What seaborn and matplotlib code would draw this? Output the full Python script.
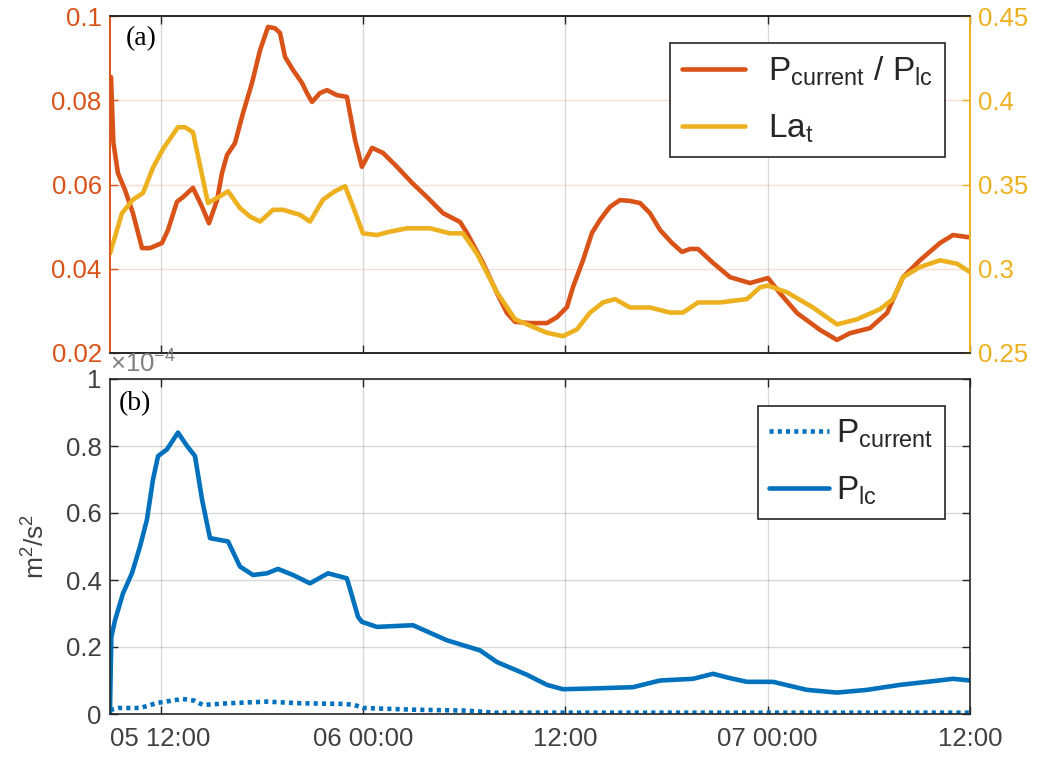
import numpy as np
import pandas as pd
import matplotlib
matplotlib.use("Agg")
import matplotlib.pyplot as plt
import seaborn as sns
from matplotlib.ticker import FixedLocator, FuncFormatter

# ---------------- data (hours since 05 00:00) ----------------
ratio_hours = [9.0, 9.06, 9.2, 9.47, 9.89, 10.36, 10.90, 11.37, 12.08, 12.44, 12.97, 13.33,
               13.92, 14.46, 14.87, 15.35, 15.64, 15.94, 16.41, 16.89, 17.42, 17.90, 18.37,
               18.78, 19.08, 19.38, 19.85, 20.39, 20.68, 20.98, 21.45, 21.87, 22.46, 23.05,
               23.53, 23.94, 24.54, 25.19, 26.02, 26.91, 27.80, 28.75, 29.76, 30.17, 31.12,
               31.95, 32.54, 33.02, 33.91, 34.91, 35.51, 36.10, 36.46, 37.05, 37.58, 38.06,
               38.65, 39.24, 39.84, 40.43, 41.02, 41.62, 42.33, 42.92, 43.40, 43.87, 44.76,
               45.77, 46.95, 48.02, 48.73, 49.74, 51.10, 52.11, 52.88, 54.07, 55.08, 56.03,
               57.03, 58.22, 58.99, 59.88, 60.0]
ratio_vals = [0.085, 0.0855, 0.070, 0.0627, 0.0587, 0.0532, 0.0449, 0.0449, 0.0461, 0.0492,
              0.0559, 0.0570, 0.0592, 0.0547, 0.0508, 0.0563, 0.0627, 0.0670, 0.0698, 0.0770,
              0.0841, 0.0919, 0.0974, 0.0971, 0.0960, 0.0903, 0.0872, 0.0841, 0.0817, 0.0796,
              0.0817, 0.0824, 0.0812, 0.0808, 0.0706, 0.0642, 0.0687, 0.0675, 0.0642, 0.0604,
              0.0570, 0.0532, 0.0511, 0.0485, 0.0414, 0.0342, 0.0295, 0.0274, 0.0271, 0.0271,
              0.0285, 0.0309, 0.0357, 0.0420, 0.0485, 0.0516, 0.0547, 0.0563, 0.0561, 0.0556,
              0.0532, 0.0492, 0.0461, 0.0440, 0.0447, 0.0447, 0.0414, 0.0380, 0.0366, 0.0378,
              0.0342, 0.0295, 0.0255, 0.0231, 0.0247, 0.0259, 0.0295, 0.0380, 0.0420, 0.0461,
              0.0480, 0.0475, 0.0475]

lat_hours = [9.0, 9.71, 10.36, 10.96, 11.55, 12.14, 13.03, 13.45, 13.92, 14.81, 15.52, 16.00,
             16.71, 17.30, 17.90, 18.67, 19.26, 20.27, 20.86, 21.63, 22.34, 22.94, 23.41,
             24.00, 24.83, 25.60, 26.61, 27.98, 29.16, 29.93, 30.76, 31.95, 33.02, 33.73,
             34.91, 35.86, 36.69, 37.47, 38.24, 38.95, 39.84, 41.02, 42.21, 42.98, 43.87,
             45.17, 46.78, 47.55, 48.02, 49.15, 50.69, 52.11, 53.30, 54.66, 55.43, 56.03,
             57.03, 58.22, 59.23, 60.0]
lat_vals = [0.309, 0.333, 0.341, 0.345, 0.360, 0.371, 0.384, 0.384, 0.381, 0.339, 0.343,
            0.346, 0.336, 0.331, 0.328, 0.335, 0.335, 0.332, 0.328, 0.341, 0.346, 0.349,
            0.337, 0.321, 0.320, 0.322, 0.324, 0.324, 0.321, 0.321, 0.309, 0.286, 0.270,
            0.267, 0.262, 0.260, 0.264, 0.274, 0.280, 0.282, 0.277, 0.277, 0.274, 0.274,
            0.280, 0.280, 0.282, 0.289, 0.290, 0.286, 0.277, 0.267, 0.270, 0.276, 0.282,
            0.295, 0.301, 0.305, 0.303, 0.298]

plc_hours = [9.0, 9.03, 9.08, 9.30, 9.77, 10.30, 10.78, 11.19, 11.55, 11.85, 12.38, 13.03,
             13.57, 14.04, 14.46, 14.93, 16.00, 16.71, 17.48, 18.31, 18.96, 19.85, 20.86,
             21.93, 23.05, 23.71, 23.94, 24.83, 26.97, 28.98, 30.94, 31.95, 33.73, 34.91,
             35.86, 37.47, 40.01, 41.62, 43.57, 44.76, 45.77, 46.78, 48.32, 50.33, 52.11,
             53.89, 55.85, 57.81, 58.99, 60.0]
plc_vals = [0.0, 0.10, 0.23, 0.28, 0.36, 0.42, 0.50, 0.58, 0.70, 0.77, 0.79, 0.84, 0.80,
            0.77, 0.64, 0.525, 0.515, 0.44, 0.415, 0.42, 0.433, 0.415, 0.39, 0.42, 0.405,
            0.29, 0.275, 0.26, 0.265, 0.22, 0.19, 0.155, 0.117, 0.087, 0.074, 0.076, 0.08,
            0.10, 0.105, 0.12, 0.107, 0.096, 0.096, 0.072, 0.064, 0.072, 0.087, 0.098,
            0.105, 0.10]

pcur_hours = [9.0, 9.5, 10.8, 11.8, 13.3, 14.0, 14.5, 16.0, 18.3, 20.3, 22.9, 23.5, 24.0,
              26.9, 30.2, 31.8, 36.0, 48.0, 60.0]
pcur_vals = [0.012, 0.018, 0.018, 0.033, 0.045, 0.040, 0.027, 0.032, 0.037, 0.032, 0.030,
             0.027, 0.018, 0.013, 0.010, 0.004, 0.004, 0.004, 0.004]

xtick_hours = [12, 24, 36, 48, 60]
xtick_labels = ["05 12:00", "06 00:00", "12:00", "07 00:00", "12:00"]
left_ticks = [0.02, 0.04, 0.06, 0.08, 0.1]
right_ticks = [0.25, 0.3, 0.35, 0.4, 0.45]
bottom_ticks = [0, 0.2, 0.4, 0.6, 0.8, 1]

# ---------------- style ----------------
ORANGE = "#D95319"
YELLOW = "#EDB120"
BLUE = "#0072BD"
AXC = "#262626"
TXT = "#404040"

sns.set_theme(style="white")
plt.rcParams["font.family"] = ["Liberation Sans", "DejaVu Sans"]
plt.rcParams["mathtext.default"] = "regular"

fig = plt.figure(figsize=(10.4, 7.64), dpi=100)
ax1 = fig.add_axes([110 / 1040, 1 - 353 / 764, 860 / 1040, 337 / 764])
ax2 = ax1.twinx()
ax3 = fig.add_axes([110 / 1040, 1 - 714 / 764, 860 / 1040, 335 / 764])

df_ratio = pd.DataFrame({"t": ratio_hours, "v": ratio_vals})
df_lat = pd.DataFrame({"t": lat_hours, "v": lat_vals})
df_plc = pd.DataFrame({"t": plc_hours, "v": plc_vals})
df_pcur = pd.DataFrame({"t": pcur_hours, "v": pcur_vals})

LW = 3.3
sns.lineplot(data=df_ratio, x="t", y="v", ax=ax1, color=ORANGE, linewidth=LW, legend=False)
sns.lineplot(data=df_lat, x="t", y="v", ax=ax2, color=YELLOW, linewidth=LW, legend=False)
sns.lineplot(data=df_pcur, x="t", y="v", ax=ax3, color=BLUE, linewidth=LW,
             linestyle=(0, (0.9, 0.9)), legend=False)
sns.lineplot(data=df_plc, x="t", y="v", ax=ax3, color=BLUE, linewidth=LW, legend=False)

fmt = FuncFormatter(lambda v, p: f"{v:g}")

# ---- top panel ----
for a in (ax1, ax2):
    a.set_xlim(9, 60)
    a.set_xlabel("")
    a.set_ylabel("")
ax1.set_ylim(0.02, 0.1)
ax2.set_ylim(0.25, 0.45)
ax1.yaxis.set_major_locator(FixedLocator(left_ticks))
ax1.yaxis.set_major_formatter(fmt)
ax2.yaxis.set_major_locator(FixedLocator(right_ticks))
ax2.yaxis.set_major_formatter(fmt)
ax1.xaxis.set_major_locator(FixedLocator(xtick_hours))
ax1.grid(axis="y", color=ORANGE, alpha=0.18, linewidth=1)
ax1.grid(axis="x", color="#000000", alpha=0.15, linewidth=1)
ax1.tick_params(axis="x", direction="in", top=True, bottom=True, labelbottom=False,
                length=6, width=1, color=AXC)
ax1.tick_params(axis="y", direction="in", left=True, length=6, width=1,
                color=ORANGE, labelcolor=ORANGE, labelsize=18.5, pad=6)
ax2.tick_params(axis="y", direction="in", right=True, length=6, width=1,
                color=YELLOW, labelcolor=YELLOW, labelsize=18.5, pad=6)
ax2.tick_params(axis="x", bottom=False, top=False, labelbottom=False)
for a in (ax1, ax2):
    a.spines["top"].set_color(AXC)
    a.spines["bottom"].set_color(AXC)
    a.spines["left"].set_color(ORANGE)
    a.spines["right"].set_color(YELLOW)
    for s in a.spines.values():
        s.set_linewidth(1.2)
        s.set_visible(True)
ax1.text(0.018, 0.97, "(a)", transform=ax1.transAxes, ha="left", va="top",
         fontsize=20, family="Liberation Serif", color="black")

h1 = ax1.get_lines()[0]
h2 = ax2.get_lines()[0]
leg1 = ax2.legend([h1, h2], [r"$P_{current}$ / $P_{lc}$", r"$La_t$"],
                  loc="upper right", bbox_to_anchor=(945 / 1040, 1 - 43 / 764),
                  bbox_transform=fig.transFigure, borderaxespad=0, fontsize=24,
                  frameon=True, fancybox=False, edgecolor=AXC, framealpha=1,
                  handlelength=1.9, handletextpad=0.7, labelspacing=0.75,
                  borderpad=0.35, labelcolor="#262626")
leg1.get_frame().set_linewidth(1.2)

# ---- bottom panel ----
ax3.set_xlim(9, 60)
ax3.set_ylim(0, 1)
ax3.set_xlabel("")
ax3.set_ylabel(r"$m^2/s^2$", fontsize=19, color=TXT, labelpad=12)
ax3.xaxis.set_major_locator(FixedLocator(xtick_hours))
ax3.set_xticklabels(xtick_labels)
ax3.yaxis.set_major_locator(FixedLocator(bottom_ticks))
ax3.yaxis.set_major_formatter(fmt)
ax3.grid(True, color="#000000", alpha=0.15, linewidth=1)
ax3.tick_params(axis="both", direction="in", top=True, bottom=True, left=True, right=True,
                length=6, width=1, color=AXC, labelcolor=TXT, labelsize=18.5)
ax3.tick_params(axis="x", pad=9)
ax3.tick_params(axis="y", pad=6)
for s in ax3.spines.values():
    s.set_color(AXC)
    s.set_linewidth(1.2)
    s.set_visible(True)
ax3.text(0.0, 1.005, r"$\times10^{-4}$", transform=ax3.transAxes, ha="left", va="bottom",
         fontsize=18.5, color="#808080")
ax3.text(0.01, 0.965, "(b)", transform=ax3.transAxes, ha="left", va="top",
         fontsize=20, family="Liberation Serif", color="black")

l_cur, l_plc = ax3.get_lines()[0], ax3.get_lines()[1]
leg2 = ax3.legend([l_cur, l_plc], [r"$P_{current}$", r"$P_{lc}$"],
                  loc="upper right", bbox_to_anchor=(945 / 1040, 1 - 406 / 764),
                  bbox_transform=fig.transFigure, borderaxespad=0, fontsize=24,
                  frameon=True, fancybox=False, edgecolor=AXC, framealpha=1,
                  handlelength=1.8, handletextpad=0.2, labelspacing=0.75,
                  borderpad=0.35, labelcolor="#262626")
leg2.get_frame().set_linewidth(1.2)

fig.savefig("out.png", dpi=100)
